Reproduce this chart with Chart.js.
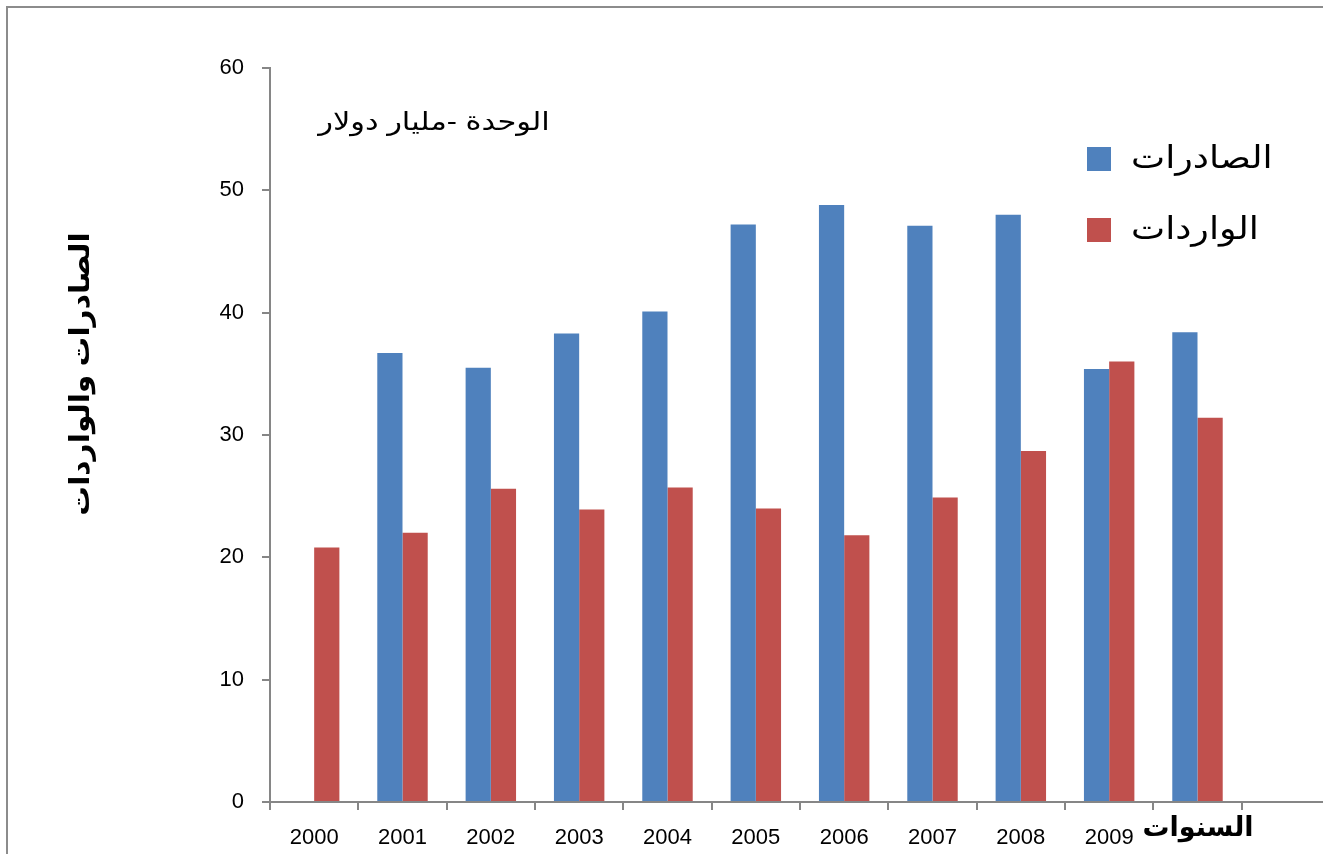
<!DOCTYPE html>
<html lang="ar">
<head>
<meta charset="utf-8">
<title>الصادرات والواردات</title>
<script src="https://cdn.jsdelivr.net/npm/chart.js@4.4.1/dist/chart.umd.min.js"></script>
<style>
    html, body { margin: 0; padding: 0; background: #fff; overflow: hidden; }
    #wrap { width: 1342px; height: 854px; position: relative; }
</style>
</head>
<body>
<div id="wrap"><canvas id="tradeChart" width="1342" height="854"></canvas></div>
<script>
// السنوات (آخر فئة فارغة كما في الأصل)
const years = ['2000', '2001', '2002', '2003', '2004', '2005', '2006', '2007', '2008', '2009', '2010', ''];

// القيم بمليار دولار
const exportsVals = [null, 36.7, 35.5, 38.3, 40.1, 47.2, 48.8, 47.1, 48.0, 35.4, 38.4, null];
const importsVals = [20.8, 22.0, 25.6, 23.9, 25.7, 24.0, 21.8, 24.9, 28.7, 36.0, 31.4, null];

const seriesNames = ['الصادرات', 'الواردات'];
const yTicks = [0, 10, 20, 30, 40, 50, 60];

const axisGray = '#868686';
const latin = '"Liberation Sans", "DejaVu Sans", sans-serif';
const arabic = '"Liberation Sans", "DejaVu Sans", sans-serif';

// نص عربي بتمديد أفقي بسيط ليقارب خط الأصل
function wideText(c, txt, x, y, sx, align) {
    c.save();
    c.translate(x, y);
    c.scale(sx, 1);
    c.textAlign = align || 'center';
    c.fillText(txt, 0, 0);
    c.restore();
}

// الإطار والنصوص الإضافية ووسيلة الإيضاح
const extras = {
    id: 'extras',
    beforeDraw(chart) {
        const c = chart.ctx;
        c.save();
        c.strokeStyle = '#8c8c8c';
        c.lineWidth = 2;
        c.strokeRect(7, 7, 1400, 1000);
        c.restore();
    },
    afterDraw(chart) {
        const c = chart.ctx;
        c.save();
        c.textBaseline = 'middle';

        // الوحدة
        c.fillStyle = '#000';
        c.font = '25px ' + arabic;
        wideText(c, 'الوحدة -مليار دولار', 434, 123, 1.22);

        // عنوان المحور الأفقي (يغطي تسمية 2010 كما في الأصل)
        c.font = 'bold 27px ' + arabic;
        c.fillStyle = '#fff';
        c.fillRect(1141, 812, 116, 38);
        c.fillStyle = '#000';
        wideText(c, 'السنوات', 1198, 829, 1.0);

        // عنوان المحور الرأسي
        c.save();
        c.translate(82, 374);
        c.rotate(-Math.PI / 2);
        c.font = 'bold 27px ' + arabic;
        wideText(c, 'الصادرات والواردات', 0, 0, 1.1);
        c.restore();

        // وسيلة الإيضاح
        const rows = [159, 230];
        chart.data.datasets.forEach((ds, i) => {
            c.fillStyle = ds.backgroundColor;
            c.fillRect(1087, rows[i] - 12, 24, 24);
            c.fillStyle = '#000';
            c.font = '31px ' + arabic;
            wideText(c, ds.label, 1131, rows[i], 1.17, 'left');
        });
        c.restore();
    }
};

new Chart(document.getElementById('tradeChart'), {
    type: 'bar',
    data: {
        labels: years,
        datasets: [
            { label: seriesNames[0], data: exportsVals, backgroundColor: '#4F81BD' },
            { label: seriesNames[1], data: importsVals, backgroundColor: '#C0504D' }
        ]
    },
    options: {
        responsive: false,
        animation: false,
        layout: { padding: { top: 68, right: 12, left: 0, bottom: 0 } },
        datasets: { bar: { categoryPercentage: 0.571, barPercentage: 1.0 } },
        plugins: { legend: { display: false }, tooltip: { enabled: false } },
        scales: {
            x: {
                afterFit(scale) { scale.height = 52; },
                border: { color: axisGray, width: 2 },
                grid: { display: true, drawOnChartArea: false, drawTicks: true, tickLength: 8, color: axisGray, lineWidth: 2 },
                ticks: { color: '#000', font: { family: latin, size: 22 }, padding: 15, maxRotation: 0, autoSkip: false }
            },
            y: {
                min: 0,
                max: 60,
                afterFit(scale) { scale.width = 270; },
                afterBuildTicks(scale) { scale.ticks = yTicks.map(v => ({ value: v })); },
                border: { color: axisGray, width: 2 },
                grid: { display: true, drawOnChartArea: false, drawTicks: true, tickLength: 8, color: axisGray, lineWidth: 2 },
                ticks: { color: '#000', font: { family: latin, size: 22 }, padding: 18 }
            }
        }
    },
    plugins: [extras]
});
</script>
</body>
</html>
